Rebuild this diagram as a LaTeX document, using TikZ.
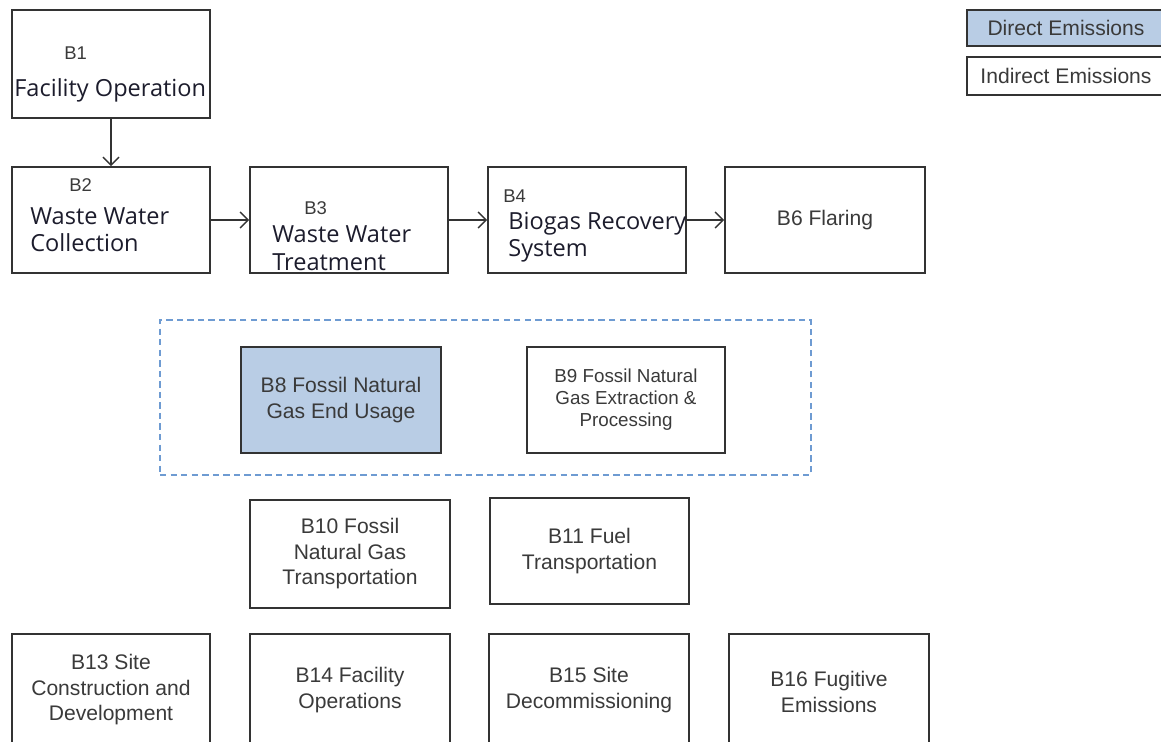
\documentclass[tikz,border=0pt]{standalone}
\usepackage{fontspec}
\setmainfont{Liberation Sans}
\newfontfamily\uifont{Open Sans}
\usetikzlibrary{arrows.meta}
\definecolor{boxline}{HTML}{333333}
\definecolor{graytxt}{HTML}{3A3A3A}
\definecolor{uitxt}{HTML}{1C1C2C}
\definecolor{directfill}{HTML}{B9CDE5}
\definecolor{dashblue}{HTML}{6E9BD2}
\tikzset{
  blk/.style={draw=boxline, line width=0.9pt, minimum width=3.96cm, minimum height=2.12cm,
    align=center, text=graytxt, font=\fontsize{12}{14.5}\selectfont, inner sep=0pt},
  uilbl/.style={anchor=base west, inner sep=0pt, text=uitxt, font=\uifont\fontsize{13.4}{15}\selectfont},
  idlbl/.style={anchor=base west, inner sep=0pt, text=graytxt, font=\fontsize{10.5}{12}\selectfont},
  flow/.style={draw=boxline, line width=0.85pt, -{Straight Barb[length=1.6mm,width=3.2mm]}},
  legbox/.style={draw=boxline, line width=0.9pt, minimum width=3.96cm, inner sep=0pt,
    text=graytxt, font=\fontsize{12}{14}\selectfont}
}
\begin{document}
\begin{tikzpicture}[x=0.02cm, y=-0.02cm]
  \useasboundingbox (0,0) rectangle (1161,742);
  \clip (0,0) rectangle (1161,742);

  % first row
  \node[blk, minimum height=2.16cm] (B1) at (111,64) {};
  \node[idlbl] (B1n) at (64,60) {B1};
  \node[uilbl] (B1t) at (14,97) {Facility Operation};

  \node[blk] (B2) at (111,220) {};
  \node[idlbl] (B2n) at (69,192) {B2};
  \node[uilbl] (B2t) at (30,225) {Waste Water};
  \node[uilbl] (B2u) at (30,252) {Collection};

  \node[blk] (B3) at (349,220) {};
  \node[idlbl] (B3n) at (304,215) {B3};
  \node[uilbl] (B3t) at (272,243) {Waste Water};
  \node[uilbl] (B3u) at (272,271) {Treatment};

  \node[blk] (B4) at (587,220) {};
  \node[idlbl] (B4n) at (503,203) {B4};
  \node[uilbl] (B4t) at (508,230) {Biogas Recovery};
  \node[uilbl] (B4u) at (508,257) {System};

  \node[blk, minimum width=4cm] (B6) at (825,220) {B6 Flaring};

  \draw[flow] (B1) -- (B2);
  \draw[flow] (B2) -- (B3);
  \draw[flow] (B3) -- (B4);
  \draw[flow] (B4) -- (B6);

  % natural gas group
  \node[draw=dashblue, line width=0.85pt, dash pattern=on 3.6pt off 2.4pt,
    minimum width=13.02cm, minimum height=3.1cm, inner sep=0pt] (grp) at (485.5,397.5) {};
  \node[blk, fill=directfill, minimum width=4cm] (B8) at (341,400) {B8 Fossil Natural\\Gas End Usage};
  \node[blk, font=\fontsize{10.7}{12.5}\selectfont] (B9) at (626,400) {B9 Fossil Natural\\Gas Extraction \&\\Processing};

  \node[blk, minimum width=4cm, minimum height=2.16cm] (B10) at (350,554) {B10 Fossil\\Natural Gas\\Transportation};
  \node[blk, minimum width=3.98cm] (B11) at (589.5,551) {B11 Fuel\\Transportation};

  % bottom row
  \node[blk, minimum height=2.24cm] (B13) at (111,690) {B13 Site\\Construction and\\Development};
  \node[blk, minimum width=4cm, minimum height=2.24cm] (B14) at (350,690) {B14 Facility\\Operations};
  \node[blk, minimum width=4cm, minimum height=2.24cm] (B15) at (589,690) {B15 Site\\Decommissioning};
  \node[blk, minimum width=4cm, minimum height=2.32cm] (B16) at (829,692) {B16 Fugitive\\Emissions};

  % legend
  \node[legbox, fill=directfill, minimum height=0.72cm] (direct) at (1066,28) {Direct Emissions};
  \node[legbox, minimum height=0.76cm] (indirect) at (1066,76) {Indirect Emissions};
\end{tikzpicture}
\end{document}
